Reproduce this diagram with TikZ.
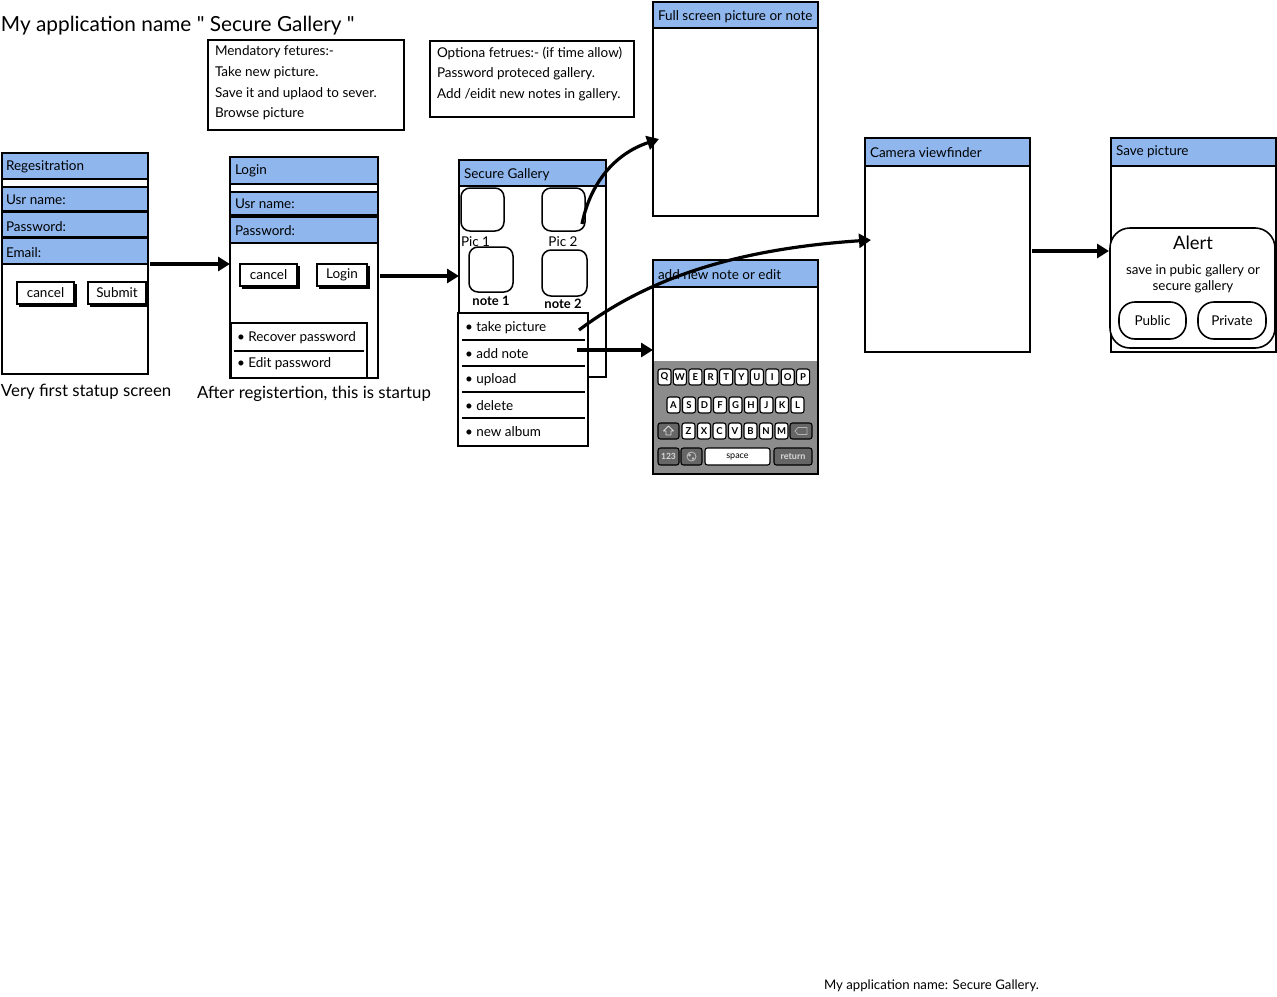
\documentclass[tikz,border=0pt]{standalone}
\usepackage{fontspec}
\newfontfamily\appfont{Lato}
\usetikzlibrary{arrows.meta,calc,fit}
\definecolor{hdrblue}{HTML}{8FB7EE}
\definecolor{kbgray}{HTML}{8C8C8C}
\definecolor{kbdark}{HTML}{666666}
\begin{document}
\appfont
\begin{tikzpicture}[x=1pt,y=-1pt,
  every node/.style={inner sep=0pt, outer sep=0pt},
  frame/.style={draw, line width=2pt, fill=white},
  hdr/.style={draw, line width=2pt, fill=hdrblue},
  txt/.style={font=\fontsize{13.5}{16}\selectfont, anchor=west, yshift=-1.2pt},
  ctxt/.style={font=\fontsize{13.5}{16}\selectfont},
  captxt/.style={font=\fontsize{16.8}{20}\selectfont, anchor=west, yshift=-1.2pt},
  btn/.style={draw, line width=1.4pt, fill=white,
    preaction={draw, fill=black, line width=1.4pt, transform canvas={xshift=2.5pt,yshift=-2.5pt}}},
  tile/.style={draw, line width=1.5pt, rounded corners=9pt},
  divider/.style={line width=1.2pt},
  flow/.style={line width=3.2pt, -{Triangle[length=12pt,width=14pt]}},
  key/.style={draw, line width=1.1pt, fill=white, rounded corners=2.5pt, anchor=north west,
    minimum width=13pt, minimum height=16pt, font=\bfseries\fontsize{9.5}{10}\selectfont},
  dkey/.style={key, fill=kbdark, text=white!85!black},
]
\useasboundingbox (0,0) rectangle (1277,996);

% ---- title and notes ----
\node[anchor=west, font=\fontsize{20.8}{24}\selectfont, yshift=-1.5pt] (title) at (1,24) {My application name " Secure Gallery "};

\node[frame, fit={(208,40) (404,130)}] (mand) {};
\node[txt] (mand1) at (215,50)  {Mendatory fetures:-};
\node[txt] (mand2) at (215,71)  {Take new picture.};
\node[txt] (mand3) at (215,92)  {Save it and uplaod to sever.};
\node[txt] (mand4) at (215,113) {Browse picture};

\node[frame, fit={(430,41) (634,117)}] (opt) {};
\node[txt] (opt1) at (437,52) {Optiona fetrues:- (if time allow)};
\node[txt] (opt2) at (437,73) {Password proteced gallery.};
\node[txt] (opt3) at (437,94) {Add /eidit new notes in gallery.};

% ---- registration screen ----
\node[frame, fit={(2,153) (148,374)}] (reg) {};
\node[hdr, fit={(2,153) (148,179)}] (regH) {};
\node[txt] (regT) at (6,166) {Regesitration};
\node[hdr, fit={(2,187) (148,211)}] (regU) {};
\node[txt] (regUT) at (6,199) {Usr name:};
\node[hdr, fit={(2,212) (148,237)}] (regP) {};
\node[txt] (regPT) at (6,225) {Password:};
\node[hdr, fit={(2,238) (148,264)}] (regE) {};
\node[txt] (regET) at (6,251) {Email:};
\node[btn, minimum width=57pt, minimum height=22pt, anchor=north west, ctxt] (regC) at (17,282) {cancel};
\node[btn, minimum width=58pt, minimum height=22pt, anchor=north west, ctxt] (regS) at (88,282) {Submit};
\node[captxt] (regCap) at (1,391) {Very first statup screen};

% ---- login screen ----
\node[frame, fit={(230,157) (378,378)}] (login) {};
\node[hdr, fit={(230,157) (378,184)}] (logH) {};
\node[txt] (logT) at (235,170) {Login};
\node[hdr, fit={(230,192) (378,215)}] (logU) {};
\node[txt] (logUT) at (235,203) {Usr name:};
\node[hdr, fit={(230,217) (378,243)}] (logP) {};
\node[txt] (logPT) at (235,229) {Password:};
\node[btn, minimum width=57pt, minimum height=22pt, anchor=north west, ctxt] (logC) at (240,264) {cancel};
\node[btn, minimum width=50pt, minimum height=22pt, anchor=north west, ctxt] (logL) at (317,264) {Login};
\node[frame, fit={(231,323) (367,378)}] (logList) {};
\draw[divider] (234,351) -- (364,351);
\node[txt] (logR) at (237,336) {\textbullet\ Recover password};
\node[txt] (logE) at (237,362) {\textbullet\ Edit password};
\node[captxt] (logCap) at (197,393) {After registertion, this is startup};

% ---- secure gallery screen ----
\node[frame, fit={(459,160) (606,377)}] (gal) {};
\node[hdr, fit={(459,160) (606,186)}] (galH) {};
\node[txt] (galT) at (464,173) {Secure Gallery};
\node[tile, fit={(461,188) (504,231)}] (pic1) {};
\node[tile, fit={(542,188) (585,231)}] (pic2) {};
\node[tile, fit={(469,247) (513,292)}] (note1) {};
\node[tile, fit={(542,250) (587,296)}] (note2) {};
\node[txt] (pic1T) at (461,240) {Pic 1};
\node[ctxt, yshift=-1.2pt] (pic2T) at (563,240) {Pic 2};
\node[ctxt, font=\bfseries\fontsize{13}{15}\selectfont, yshift=-1.2pt] (note1T) at (491,300) {note 1};
\node[ctxt, font=\bfseries\fontsize{13}{15}\selectfont, yshift=-1.2pt] (note2T) at (563,303) {note 2};

\node[frame, fit={(458,313) (588,446)}] (menu) {};
\foreach \yy in {340,366,392,418} \draw[divider] (462,\yy) -- (585,\yy);
\node[txt] (mTake)   at (465,326) {\textbullet\ take picture};
\node[txt] (mNote)   at (465,352) {\textbullet\ add note};
\node[txt] (mUpload) at (465,378) {\textbullet\ upload};
\node[txt] (mDelete) at (465,404) {\textbullet\ delete};
\node[txt] (mAlbum)  at (465,430) {\textbullet\ new album};

% ---- full screen view ----
\node[frame, fit={(653,2) (818,216)}] (fs) {};
\node[hdr, fit={(653,2) (818,28)}] (fsH) {};
\node[txt] (fsT) at (658,15) {Full screen picture or note};

% ---- note editor with keyboard ----
\node[frame, fit={(653,260) (818,474)}] (note) {};
\node[hdr, fit={(653,260) (818,287)}] (noteH) {};
\node[txt] (noteT) at (658,273) {add new note or edit};
\fill[kbgray] (654,361) rectangle (817,473);
\foreach \l [count=\i from 0] in {Q,W,E,R,T,Y,U,I,O,P}
  \node[key] (kA\i) at (658+15.4*\i,369) {\l};
\foreach \l [count=\i from 0] in {A,S,D,F,G,H,J,K,L}
  \node[key] (kB\i) at (667+15.5*\i,397) {\l};
\foreach \l [count=\i from 0] in {Z,X,C,V,B,N,M}
  \node[key] (kC\i) at (682+15.5*\i,423) {\l};
\node[dkey, minimum width=21pt] (kShift) at (658,423) {};
\draw[white!85!black, line width=0.8pt, line join=round]
  ($(kShift.center)+(0,-5)$) -- ++(5,5) -- ++(-2.5,0) -- ++(0,4) -- ++(-5,0) -- ++(0,-4) -- ++(-2.5,0) -- cycle;
\node[dkey, minimum width=22pt] (kBack) at (790,423) {};
\draw[white!70!black, line width=0.8pt, line join=round]
  ($(kBack.center)+(-6,0)$) -- ++(3,-3.5) -- ++(9,0) -- ++(0,7) -- ++(-9,0) -- cycle;
\node[dkey, minimum width=21pt, minimum height=17pt, font=\bfseries\fontsize{8.5}{9}\selectfont] (k123) at (658,448) {123};
\node[dkey, minimum width=21pt, minimum height=17pt] (kGlobe) at (681,448) {};
\draw[white!75!black, line width=0.8pt] (kGlobe.center) circle (4.5pt);
\fill[white!75!black] ($(kGlobe.center)+(-2,-1.5)$) circle (1.6pt) ($(kGlobe.center)+(1.5,2)$) circle (1.3pt);
\node[key, minimum width=65pt, minimum height=17pt, font=\fontsize{9}{10}\selectfont] (kSpace) at (705,448) {space};
\node[dkey, minimum width=38pt, minimum height=17pt, font=\bfseries\fontsize{9}{10}\selectfont] (kRet) at (774,448) {return};

% ---- camera viewfinder ----
\node[frame, fit={(865,138) (1030,352)}] (cam) {};
\node[hdr, fit={(865,138) (1030,166)}] (camH) {};
\node[txt] (camT) at (870,151) {Camera viewfinder};

% ---- save picture with alert ----
\node[frame, fit={(1111,138) (1276,352)}] (save) {};
\node[hdr, fit={(1111,138) (1276,166)}] (saveH) {};
\node[txt] (saveT) at (1116,151) {Save picture};
\node[draw, line width=1.6pt, fill=white, rounded corners=20pt, fit={(1110,228) (1275,348)}] (alert) {};
\node[font=\fontsize{18.4}{22}\selectfont, yshift=-1.2pt] (alertT) at (1193,242) {Alert};
\node[font=\fontsize{13.4}{16}\selectfont, yshift=-1.2pt] (alertM1) at (1193,270) {save in pubic gallery or};
\node[font=\fontsize{13.4}{16}\selectfont, yshift=-1.2pt] (alertM2) at (1193,286) {secure gallery};
\node[draw, line width=1.6pt, rounded corners=16pt, fit={(1119,302) (1186,339)}] (pub) {};
\node[ctxt] (pubT) at (pub.center) {Public};
\node[draw, line width=1.6pt, rounded corners=16pt, fit={(1198,302) (1266,339)}] (priv) {};
\node[ctxt] (privT) at (priv.center) {Private};

% ---- footer ----
\node[anchor=west, font=\fontsize{13.2}{16}\selectfont, yshift=-1pt] (footer) at (824,985) {My application name: Secure Gallery.};

% ---- flow connectors ----
\coordinate (r1) at ($(reg.east)+(2,0.5)$);
\draw[flow] (r1) -- (r1 -| login.west);
\coordinate (l1) at ($(login.east)+(2,8.5)$);
\draw[flow] (l1) -- (l1 -| gal.west);
\coordinate (n1) at ($(menu.north east)+(-11,37)$);
\draw[flow] (n1) -- (n1 -| note.west);
\coordinate (c1) at ($(cam.east)+(2,6)$);
\draw[flow] (c1) -- ($(c1 -| save.west)+(-2,0)$);
\coordinate (p2) at ($(pic2.south east)+(-3,-7)$);
\coordinate (fsIn) at ($(fs.south west)+(6,-77)$);
\draw[flow] (p2) .. controls ($(p2)+(8,-40)$) and ($(fsIn)+(-45,15)$) .. (fsIn);
\coordinate (tp) at ($(menu.north east)+(-9,17)$);
\coordinate (camIn) at ($(cam.west)+(6,-5)$);
\draw[flow] (tp) .. controls ($(tp)+(60,-45)$) and ($(camIn)+(-150,10)$) .. (camIn);
\end{tikzpicture}
\end{document}
